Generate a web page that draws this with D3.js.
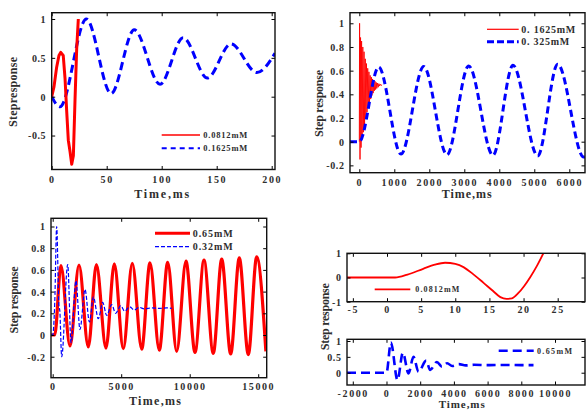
<!DOCTYPE html>
<html><head><meta charset="utf-8">
<script src="https://cdn.jsdelivr.net/npm/d3@7"></script>
<style>
html,body{margin:0;padding:0;background:#fff;}
svg{display:block;}
text{font-family:"Liberation Serif","Times New Roman",serif;font-weight:bold;fill:#2e2e2e;}
</style></head><body>
<svg id="chart" width="587" height="410"></svg>
<script>
// ================= DATA =================
// Panel A (top-left): time in ms
const aTicksX = [0, 50, 100, 150, 200];
const aTicksY = [-0.5, 0, 0.5, 1];
const aRed = [[0,0],[2.1,0.13],[4.5,0.38],[6.6,0.53],[8.2,0.57],[10.5,0.53],[12.1,0.24],[13.6,-0.18],[15.1,-0.56],[16.6,-0.7],[18.2,-0.87],[19.7,-0.76],[21.2,-0.04],[22.7,0.61],[24.2,1.0]];
const aBlue = [[0,0],[7.5,-0.13],[31.5,1.0],[54,0.04],[75,0.86],[98.5,0.16],[119.5,0.76],[141.5,0.24],[163,0.68],[186.5,0.31],[203,0.56]];
const aLegend = ["0.0812mM", "0.1625mM"];

// Panel B (top-right)
const bTicksX = [0, 1000, 2000, 3000, 4000, 5000, 6000];
const bTicksY = [-0.2, 0, 0.2, 0.4, 0.6, 0.8, 1];
const bRed = [[0,0],[8,1.0],[20,-0.15],[35,0.88],[50,-0.05],[65,0.85],[80,0.02],[100,0.8],[115,0.08],[135,0.76],[150,0.14],[170,0.7],[185,0.2],[205,0.66],[220,0.25],[240,0.62],[255,0.3],[275,0.59],[290,0.33],[310,0.56],[325,0.36],[345,0.545],[360,0.39],[380,0.53],[395,0.41],[415,0.52],[430,0.43],[450,0.51],[465,0.44],[485,0.5],[500,0.45],[520,0.495],[540,0.46],[560,0.49],[580,0.47],[600,0.485],[620,0.475],[650,0.48]];
const bBlue = [[-266,0],[0,0],[554,0.63],[1191,-0.105],[1840,0.635],[2506,-0.11],[3126,0.64],[3820,-0.115],[4391,0.645],[5097,-0.12],[5669,0.655],[6411,-0.13],[6449,-0.128]];
const bLegend = ["0. 1625mM", "0. 325mM"];

// Panel C (bottom-left)
const cTicksX = [0, 5000, 10000, 15000];
const cTicksY = [-0.2, 0, 0.2, 0.4, 0.6, 0.8, 1];
const cRed = [[-124,0],[150,0],[600,0.64],[1263,-0.1],[1920,0.645],[2598,-0.11],[3190,0.65],[3890,-0.12],[4496,0.655],[5153,-0.125],[5810,0.66],[6496,-0.13],[7102,0.665],[7781,-0.14],[8394,0.67],[9051,-0.15],[9730,0.68],[10386,-0.16],[11044,0.69],[11722,-0.17],[12336,0.7],[12993,-0.175],[13620,0.71],[14277,-0.18],[14890,0.72],[15560,-0.15]];
const cBlue = [[-124,0],[0,0],[150,0.3],[290,1.0],[450,0.28],[520,0.22],[657,-0.2],[1095,0.65],[1340,-0.07],[1700,0.5],[1990,0.05],[2360,0.42],[2680,0.12],[2970,0.35],[3330,0.15],[3650,0.3],[3940,0.18],[4300,0.28],[4600,0.2],[4960,0.27],[5260,0.22],[5620,0.26],[5950,0.23],[6300,0.255],[6700,0.24],[7200,0.25],[7800,0.245],[8300,0.25],[8686,0.245]];
const cLegend = ["0.65mM", "0.32mM"];

// Panel D (bottom-right, two stacked axes)
const d1TicksX = [-5, 0, 5, 10, 15, 20, 25];
const d1TicksY = [-1, 0, 1];
const d1Red = [[-5.86,0],[1.2,0],[3,0.12],[5.3,0.36],[7,0.53],[8.5,0.61],[10,0.56],[11.2,0.43],[12.7,0.12],[14.1,-0.21],[15.5,-0.55],[16.6,-0.81],[17.5,-0.88],[18.3,-0.86],[19.25,-0.64],[20.1,-0.35],[20.95,0],[22,0.5],[22.9,1.0]];
const d1Legend = ["0.0812mM"];
const d2TicksX = [-2000, 0, 2000, 4000, 6000, 8000, 10000];
const d2TicksY = [0, 0.5, 1];
const d2Blue = [[-2344,0],[0,0],[260,0.95],[653,-0.23],[973,0.63],[1306,-0.02],[1602,0.5],[1899,0.03],[2356,0.38],[2593,0.085],[2990,0.34],[3288,0.19],[3600,0.3],[3900,0.21],[4300,0.27],[4700,0.23],[5200,0.25],[6000,0.24],[7000,0.245],[8000,0.24],[8724,0.24]];
const d2Legend = ["0.65mM"];

const xTitle = "Time,ms";
const yTitleA = "Stepresponse";
const yTitle = "Step response";

// ================= LAYOUT / STYLE =================
const RED = "#ff0000", BLUE = "#0000ff";
const panels = [
  { box:{l:51.7,r:275,t:12.7,b:169.5}, xDom:[0,203], yDom:[-0.937,1.081],
    xt:aTicksX, yt:aTicksY, xlOff:13.5,
    series:[ {d:aBlue, c:BLUE, w:3, dash:"8,4.5", curve:d3.curveMonotoneX},
             {d:aRed, c:RED, w:3, dash:null, curve:d3.curveLinear} ],
    legend:[ {x1:161.7,x2:200,y:135,c:RED,w:1.6,dash:null,tx:203.3,text:aLegend[0],len:44,fs:8.5},
             {x1:161.7,x2:200,y:148.3,c:BLUE,w:2,dash:"5,4",tx:203.3,text:aLegend[1],len:44,fs:8.5} ],
    xlab:{x:161.7,y:197.7,len:55,fs:12}, ylab:{x:13,y:92,len:70,text:yTitleA} },
  { box:{l:350,r:585,t:12.7,b:172.7}, xDom:[-266,6449], yDom:[-0.262,1.0895],
    xt:bTicksX, yt:bTicksY, xlOff:13.3,
    series:[ {d:bRed, c:RED, w:0.9, dash:null, curve:d3.curveLinear},
             {d:bBlue, c:BLUE, w:3, dash:"7,4", curve:d3.curveMonotoneX} ],
    legend:[ {x1:487,x2:518.7,y:29.3,c:RED,w:1.2,dash:null,tx:521.3,text:bLegend[0],len:54,fs:10},
             {x1:487,x2:518.7,y:41.7,c:BLUE,w:3,dash:"7,3",tx:521.3,text:bLegend[1],len:48,fs:10} ],
    xlab:{x:466.7,y:198.3,len:50,fs:12}, ylab:{x:318.7,y:103.5,len:67,text:yTitle} },
  { box:{l:51,r:266.7,t:218.3,b:377.7}, xDom:[-124,15620], yDom:[-0.3935,1.0756],
    xt:cTicksX, yt:cTicksY, xlOff:12.5,
    series:[ {d:cRed, c:RED, w:3.2, dash:null, curve:d3.curveMonotoneX},
             {d:cBlue, c:BLUE, w:1.2, dash:"4,2", curve:d3.curveMonotoneX} ],
    legend:[ {x1:155,x2:190,y:233.3,c:RED,w:3,dash:null,tx:192.7,text:cLegend[0],len:40,fs:10},
             {x1:155,x2:190,y:246.7,c:BLUE,w:1.2,dash:"4,2",tx:192.7,text:cLegend[1],len:40,fs:10} ],
    xlab:{x:155,y:405,len:52,fs:12}, ylab:{x:13.3,y:300,len:67,text:yTitle} },
  { box:{l:347,r:585,t:253.3,b:301.7}, xDom:[-5.86,29.0], yDom:[-1,1],
    xt:d1TicksX, yt:d1TicksY, xlOff:11,
    series:[ {d:d1Red, c:RED, w:1.8, dash:null, curve:d3.curveMonotoneX} ],
    legend:[ {x1:374.7,x2:410.3,y:289.3,c:RED,w:1.8,dash:null,tx:415.3,text:d1Legend[0],len:44,fs:8},
             ],
    xlab:null, ylab:{x:324.3,y:316.7,len:67,text:yTitle} },
  { box:{l:347,r:585,t:339.3,b:385}, xDom:[-2344,11780], yDom:[-0.388,1.054],
    xt:d2TicksX, yt:d2TicksY, xlOff:11.7,
    series:[ {d:d2Blue, c:BLUE, w:2.6, dash:"9,5", curve:d3.curveMonotoneX} ],
    legend:[ {x1:498.7,x2:533.7,y:350.7,c:BLUE,w:2.6,dash:"9,5",tx:537,text:d2Legend[0],len:35,fs:8} ],
    xlab:{x:461.7,y:407.5,len:46,fs:11}, ylab:null }
];

// ================= DRAW =================
const svg = d3.select("#chart");
const fmt = d => String(d);

panels.forEach((p, i) => {
  const {l, r, t, b} = p.box;
  const x = d3.scaleLinear().domain(p.xDom).range([l, r]);
  const y = d3.scaleLinear().domain(p.yDom).range([b, t]);
  const g = svg.append("g");

  const clipId = "clip" + i;
  svg.append("defs").append("clipPath").attr("id", clipId)
    .append("rect").attr("x", l).attr("y", t).attr("width", r - l).attr("height", b - t);

  const plot = g.append("g").attr("clip-path", `url(#${clipId})`);
  p.series.forEach(s => {
    const line = d3.line().x(d => x(d[0])).y(d => y(d[1])).curve(s.curve);
    plot.append("path").attr("d", line(s.d))
      .attr("fill", "none").attr("stroke", s.c).attr("stroke-width", s.w)
      .attr("stroke-dasharray", s.dash).attr("stroke-linejoin", "round");
  });

  // axes with inward ticks on all four sides
  const ax = g.append("g").attr("transform", `translate(0,${b})`)
    .call(d3.axisBottom(x).tickValues(p.xt).tickSize(-3.5).tickFormat(fmt));
  ax.selectAll("text").attr("y", p.xlOff).attr("dy", 0).style("font-size", "10px")
    .style("letter-spacing", "1.6px").style("fill", "#2e2e2e");
  const ay = g.append("g").attr("transform", `translate(${l},0)`)
    .call(d3.axisLeft(y).tickValues(p.yt).tickSize(-3.5).tickFormat(fmt));
  ay.selectAll("text").attr("x", -5.5).attr("dy", "0.34em").style("font-size", "10px")
    .style("letter-spacing", "0.6px").style("fill", "#2e2e2e");
  g.append("g").attr("transform", `translate(0,${t})`)
    .call(d3.axisTop(x).tickValues(p.xt).tickSize(-3.5).tickFormat(""));
  g.append("g").attr("transform", `translate(${r},0)`)
    .call(d3.axisRight(y).tickValues(p.yt).tickSize(-3.5).tickFormat(""));
  g.selectAll(".domain").remove();
  g.selectAll(".tick line").attr("stroke", "#000").attr("stroke-width", 1);
  g.selectAll(".tick text").attr("font-family", null);

  g.append("rect").attr("x", l).attr("y", t).attr("width", r - l).attr("height", b - t)
    .attr("fill", "none").attr("stroke", "#111").attr("stroke-width", 1.4);

  // legend
  p.legend.forEach(e => {
    g.append("line").attr("x1", e.x1).attr("x2", e.x2).attr("y1", e.y).attr("y2", e.y)
      .attr("stroke", e.c).attr("stroke-width", e.w).attr("stroke-dasharray", e.dash);
    g.append("text").attr("x", e.tx).attr("y", e.y).attr("dy", "0.35em")
      .attr("textLength", e.len).attr("lengthAdjust", "spacing")
      .style("font-size", e.fs + "px").text(e.text);
  });

  if (p.xlab) {
    g.append("text").attr("x", p.xlab.x - p.xlab.len / 2).attr("y", p.xlab.y)
      .attr("textLength", p.xlab.len).attr("lengthAdjust", "spacing")
      .style("font-size", p.xlab.fs + "px").text(xTitle);
  }
  if (p.ylab) {
    g.append("text").attr("transform", `translate(${p.ylab.x},${p.ylab.y}) rotate(-90)`)
      .attr("x", -p.ylab.len / 2).attr("dy", "0.35em")
      .attr("textLength", p.ylab.len).attr("lengthAdjust", "spacing")
      .style("font-size", "12px").text(p.ylab.text);
  }
});
</script>
</body></html>
